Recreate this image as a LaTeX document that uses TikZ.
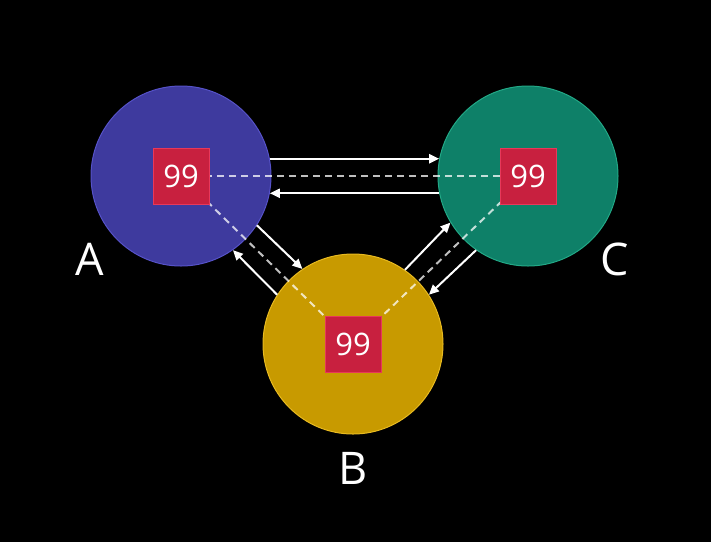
\documentclass[tikz,border=0pt]{standalone}
\usepackage{fontspec}
\setmainfont{Open Sans}
\usetikzlibrary{arrows.meta}
\definecolor{nodeA}{HTML}{3E3A9E}
\definecolor{nodeAline}{HTML}{5652C8}
\definecolor{nodeB}{HTML}{C89A00}
\definecolor{nodeBline}{HTML}{E8BA20}
\definecolor{nodeC}{HTML}{0E8068}
\definecolor{nodeCline}{HTML}{22A886}
\definecolor{counter}{HTML}{C8203F}
\definecolor{counterline}{HTML}{E8385A}
\begin{document}
\begin{tikzpicture}[x=1pt,y=-1pt,
  replica/.style={circle,minimum size=180pt,inner sep=0pt,line width=1pt},
  counterbox/.style={fill=counter,draw=counterline,line width=1pt,minimum size=56pt,inner sep=0pt,text=white,font=\fontsize{31}{31}\selectfont},
  msg/.style={white,line width=2pt,-{Triangle[length=10pt,width=9pt]}},
  sync/.style={white,opacity=0.75,line width=2pt,dash pattern=on 7pt off 5pt},
  letter/.style={text=white,font=\fontsize{45}{45}\selectfont}]
\fill [black] (0,0) rectangle (711,542);
\useasboundingbox (0,0) rectangle (711,542);
% replicas
\node [replica,fill=nodeA,draw=nodeAline] (A) at (181,176) {};
\node [replica,fill=nodeC,draw=nodeCline] (C) at (528,176) {};
\node [replica,fill=nodeB,draw=nodeBline] (B) at (353,344) {};
% dashed sync lines
\draw [sync] (A.center) -- (C.center);
\draw [sync] (A.center) -- (B.center);
\draw [sync] (C.center) -- (B.center);
% counters
\node [counterbox] (sa) at (A.center) {99};
\node [counterbox] (sc) at (C.center) {99};
\node [counterbox] (sb) at (B.center) {99};
% messages
\draw [msg] (A.11) -- (C.169);
\draw [msg] (C.191) -- (A.349);
\draw [msg] (A.-33) -- (B.124);
\draw [msg] (B.147) -- (A.-55);
\draw [msg] (B.55) -- (C.211);
\draw [msg] (C.235) -- (B.33);
% labels
\node [letter] (la) at (90,259) {A};
\node [letter] (lc) at (615,259) {C};
\node [letter] (lb) at (353,468) {B};
\end{tikzpicture}
\end{document}
